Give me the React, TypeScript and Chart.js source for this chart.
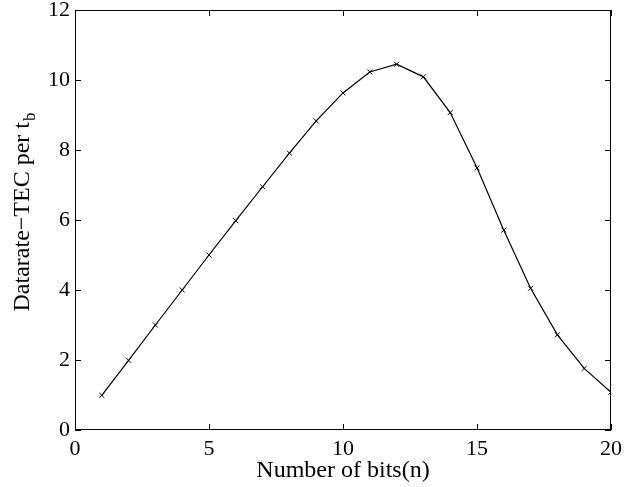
import React, { useEffect, useRef } from "react";
import { Chart, registerables } from "chart.js";

Chart.register(...registerables);

const bits = [1, 2, 3, 4, 5, 6, 7, 8, 9, 10, 11, 12, 13, 14, 15, 16, 17, 18, 19, 20];
const datarateTec = [0.99, 1.99, 3.0, 4.0, 5.0, 5.98, 6.95, 7.91, 8.83, 9.63, 10.23, 10.45, 10.09, 9.07, 7.49, 5.71, 4.05, 2.72, 1.76, 1.08];
const xTicks = [0, 5, 10, 15, 20];
const yTicks = [0, 2, 4, 6, 8, 10, 12];
const xTitle = "Number of bits(n)";
const yTitleMain = "Datarate\u2212TEC per t";
const yTitleSub = "b";

const FONT = "'Liberation Serif', 'Times New Roman', serif";

const framePlugin = {
  id: "frame",
  afterDraw(chart: any) {
    const { ctx, chartArea: a, scales } = chart;
    ctx.save();
    ctx.strokeStyle = "#000";
    ctx.lineWidth = 1;
    ctx.strokeRect(a.left + 0.5, a.top + 0.5, a.right - a.left - 1, a.bottom - a.top - 1);
    ctx.beginPath();
    const tl = 6;
    for (const v of xTicks) {
      const x = Math.round(scales.x.getPixelForValue(v)) + 0.5;
      ctx.moveTo(x, a.bottom);
      ctx.lineTo(x, a.bottom - tl);
      ctx.moveTo(x, a.top);
      ctx.lineTo(x, a.top + tl);
    }
    for (const v of yTicks) {
      const y = Math.round(scales.y.getPixelForValue(v)) + 0.5;
      ctx.moveTo(a.left, y);
      ctx.lineTo(a.left + tl, y);
      ctx.moveTo(a.right, y);
      ctx.lineTo(a.right - tl, y);
    }
    ctx.stroke();
    // x title
    ctx.fillStyle = "#000";
    ctx.font = `24px ${FONT}`;
    ctx.textAlign = "center";
    ctx.textBaseline = "alphabetic";
    ctx.fillText(xTitle, (a.left + a.right) / 2, 477);
    // y title with subscript
    ctx.translate(29, 212);
    ctx.rotate(-Math.PI / 2);
    ctx.font = `24px ${FONT}`;
    const wMain = ctx.measureText(yTitleMain).width;
    ctx.font = `17px ${FONT}`;
    const wSub = ctx.measureText(yTitleSub).width;
    const total = wMain + wSub + 1;
    ctx.textAlign = "left";
    ctx.font = `24px ${FONT}`;
    ctx.fillText(yTitleMain, -total / 2, 0);
    ctx.font = `17px ${FONT}`;
    ctx.fillText(yTitleSub, -total / 2 + wMain + 1, 6);
    ctx.restore();
  },
};

export default function App() {
  const ref = useRef<HTMLCanvasElement | null>(null);
  useEffect(() => {
    document.body.style.margin = "0";
    const chart = new Chart(ref.current as HTMLCanvasElement, {
      type: "line",
      data: {
        datasets: [
          {
            data: bits.map((b, i) => ({ x: b, y: datarateTec[i] })),
            borderColor: "#000",
            backgroundColor: "#000",
            borderWidth: 1.2,
            pointStyle: "crossRot",
            pointRadius: 3.5,
            pointBorderWidth: 1,
            pointBorderColor: "#000",
            tension: 0,
            fill: false,
          },
        ],
      },
      options: {
        animation: false,
        responsive: false,
        maintainAspectRatio: false,
        layout: { padding: { top: 10, right: 13, left: 0, bottom: 0 } },
        plugins: { legend: { display: false }, tooltip: { enabled: false } },
        scales: {
          x: {
            type: "linear",
            min: 0,
            max: 20,
            afterBuildTicks: (s: any) => {
              s.ticks = xTicks.map((v) => ({ value: v }));
            },
            afterFit: (s: any) => {
              s.height = 57;
              s.paddingLeft = 0;
              s.paddingRight = 0;
            },
            grid: { display: false, drawTicks: false },
            border: { display: false },
            ticks: { color: "#000", font: { family: FONT, size: 22 }, padding: 6, maxRotation: 0 },
          },
          y: {
            type: "linear",
            min: 0,
            max: 12,
            afterBuildTicks: (s: any) => {
              s.ticks = yTicks.map((v) => ({ value: v }));
            },
            afterFit: (s: any) => {
              s.width = 75;
              s.paddingTop = 0;
              s.paddingBottom = 0;
            },
            grid: { display: false, drawTicks: false },
            border: { display: false },
            ticks: { color: "#000", font: { family: FONT, size: 22 }, padding: 5 },
          },
        },
      },
      plugins: [framePlugin],
    });
    return () => chart.destroy();
  }, []);
  return (
    <div style={{ width: 624, height: 487, background: "#fff" }}>
      <canvas ref={ref} width={624} height={487} style={{ display: "block" }} />
    </div>
  );
}
